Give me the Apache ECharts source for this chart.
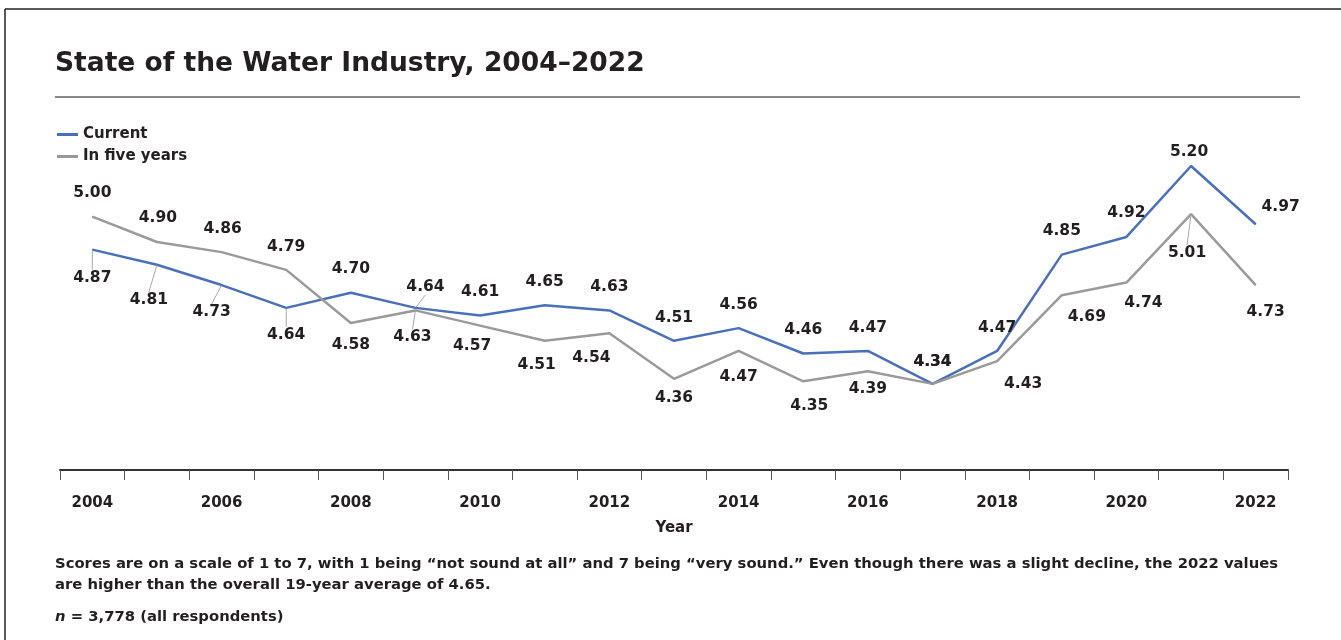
<!DOCTYPE html>
<html>
<head>
<meta charset="utf-8">
<script src="https://cdn.jsdelivr.net/npm/echarts@6/dist/echarts.min.js"></script>
<style>
  html, body { margin: 0; padding: 0; background: #fff; }
  #chart { width: 1341px; height: 640px; }
</style>
</head>
<body>
<div id="chart"></div>
<script>
const years = ['2004', '2005', '2006', '2007', '2008', '2009', '2010', '2011', '2012', '2013',
  '2014', '2015', '2016', '2017', '2018', '2019', '2020', '2021', '2022'];
const current = [4.87, 4.81, 4.73, 4.64, 4.70, 4.64, 4.61, 4.65, 4.63, 4.51,
  4.56, 4.46, 4.47, 4.34, 4.47, 4.85, 4.92, 5.20, 4.97];
const inFiveYears = [5.00, 4.90, 4.86, 4.79, 4.58, 4.63, 4.57, 4.51, 4.54, 4.36,
  4.47, 4.35, 4.39, 4.34, 4.43, 4.69, 4.74, 5.01, 4.73];

// label nudges (dx, dy from the point) and which labels get a leader line
const currentShift = [[0, 28], [-8, 35], [-10, 27], [0, 27], [0, -24], [10, -21], [0, -23], [0, -23], [0, -23], [0, -23],
  [0, -23], [0, -23], [0, -23], [0, -22], [0, -23], [0, -24], [0, -24], [-2, -14], [25, -17]];
const fiveShift = [[0, -24], [1, -24], [1, -23], [0, -23], [0, 22], [-3, 27], [-8, 20], [-8, 24], [-18, 25], [0, 19],
  [0, 26], [6, 25], [0, 18], [0, -22], [26, 23], [25, 22], [17, 20], [-4, 39], [10, 27]];
const currentLeaders = [0, 1, 2, 3, 5];
const fiveLeaders = [5, 17];

const FONT = '"DejaVu Sans", sans-serif';
const INK = '#231f20';
const BLUE = '#4a70b8';
const GREY = '#9a9a9a';

function items(vals, leaders) {
  return vals.map((v, i) => ({
    value: v,
    labelLine: { show: leaders.indexOf(i) >= 0 }
  }));
}

function lineSeries(name, vals, color, leaders, shifts) {
  return {
    name: name,
    type: 'line',
    data: items(vals, leaders),
    symbol: 'circle',
    symbolSize: 1,
    showSymbol: true,
    showAllSymbol: true,
    itemStyle: { color: color },
    lineStyle: { color: color, width: 2.5 },
    label: {
      show: true,
      position: 'inside',
      color: INK,
      fontFamily: FONT,
      fontWeight: 'bold',
      fontSize: 15.5,
      padding: [2, 2],
      formatter: p => p.value.toFixed(2)
    },
    labelLine: { show: false, lineStyle: { color: '#a8a8a8', width: 1 } },
    labelLayout: p => {
      const s = shifts[p.dataIndex];
      return { dx: s[0], dy: s[1] };
    },
    emphasis: { disabled: true }
  };
}

const chart = echarts.init(document.getElementById('chart'));
chart.setOption({
  animation: false,
  title: [
    {
      text: 'State of the Water Industry, 2004\u20132022',
      left: 55, top: 51, padding: 0,
      textStyle: { fontFamily: FONT, fontWeight: 'bold', fontSize: 26.5, color: INK }
    },
    {
      text: 'Scores are on a scale of 1 to 7, with 1 being \u201cnot sound at all\u201d and 7 being \u201cvery sound.\u201d Even though there was a slight decline, the 2022 values\nare higher than the overall 19-year average of 4.65.',
      left: 55, top: 554, padding: 0,
      textStyle: { fontFamily: FONT, fontWeight: 'bold', fontSize: 14.8, lineHeight: 21, color: INK }
    },
    {
      text: '{i|n} = 3,778 (all respondents)',
      left: 55, top: 610, padding: 0,
      textStyle: {
        fontFamily: FONT, fontWeight: 'bold', fontSize: 14.8, color: INK,
        rich: { i: { fontFamily: FONT, fontWeight: 'bold', fontStyle: 'italic', fontSize: 14.8, color: INK } }
      }
    }
  ],
  legend: {
    orient: 'vertical',
    left: 57, top: 126,
    padding: 0,
    itemGap: 5,
    itemWidth: 21, itemHeight: 3,
    icon: 'rect',
    textStyle: { fontFamily: FONT, fontWeight: 'bold', fontSize: 15, lineHeight: 17, color: INK },
    data: ['Current', 'In five years']
  },
  graphic: [
    { type: 'line', shape: { x1: 5, y1: 9, x2: 1341, y2: 9 }, style: { stroke: '#222', lineWidth: 1.5 } },
    { type: 'line', shape: { x1: 5, y1: 9, x2: 5, y2: 640 }, style: { stroke: '#222', lineWidth: 1.5 } },
    { type: 'line', shape: { x1: 55, y1: 97, x2: 1300, y2: 97 }, style: { stroke: '#8a8a8a', lineWidth: 2 } }
  ],
  grid: { left: 60, right: 53, top: 90, bottom: 170 },
  xAxis: {
    type: 'category',
    data: years,
    boundaryGap: true,
    name: 'Year',
    nameLocation: 'middle',
    nameGap: 51,
    nameTextStyle: { fontFamily: FONT, fontWeight: 'bold', fontSize: 15, color: INK },
    axisLine: { lineStyle: { color: '#333', width: 2 } },
    axisTick: { show: true, interval: 0, length: 10, lineStyle: { color: '#555', width: 1 } },
    axisLabel: { interval: 1, margin: 26, fontFamily: FONT, fontWeight: 'bold', fontSize: 15, color: INK },
    splitLine: { show: false }
  },
  yAxis: { type: 'value', min: 4, max: 5.5, show: false },
  series: [
    lineSeries('Current', current, BLUE, currentLeaders, currentShift),
    lineSeries('In five years', inFiveYears, GREY, fiveLeaders, fiveShift)
  ]
});
</script>
</body>
</html>
